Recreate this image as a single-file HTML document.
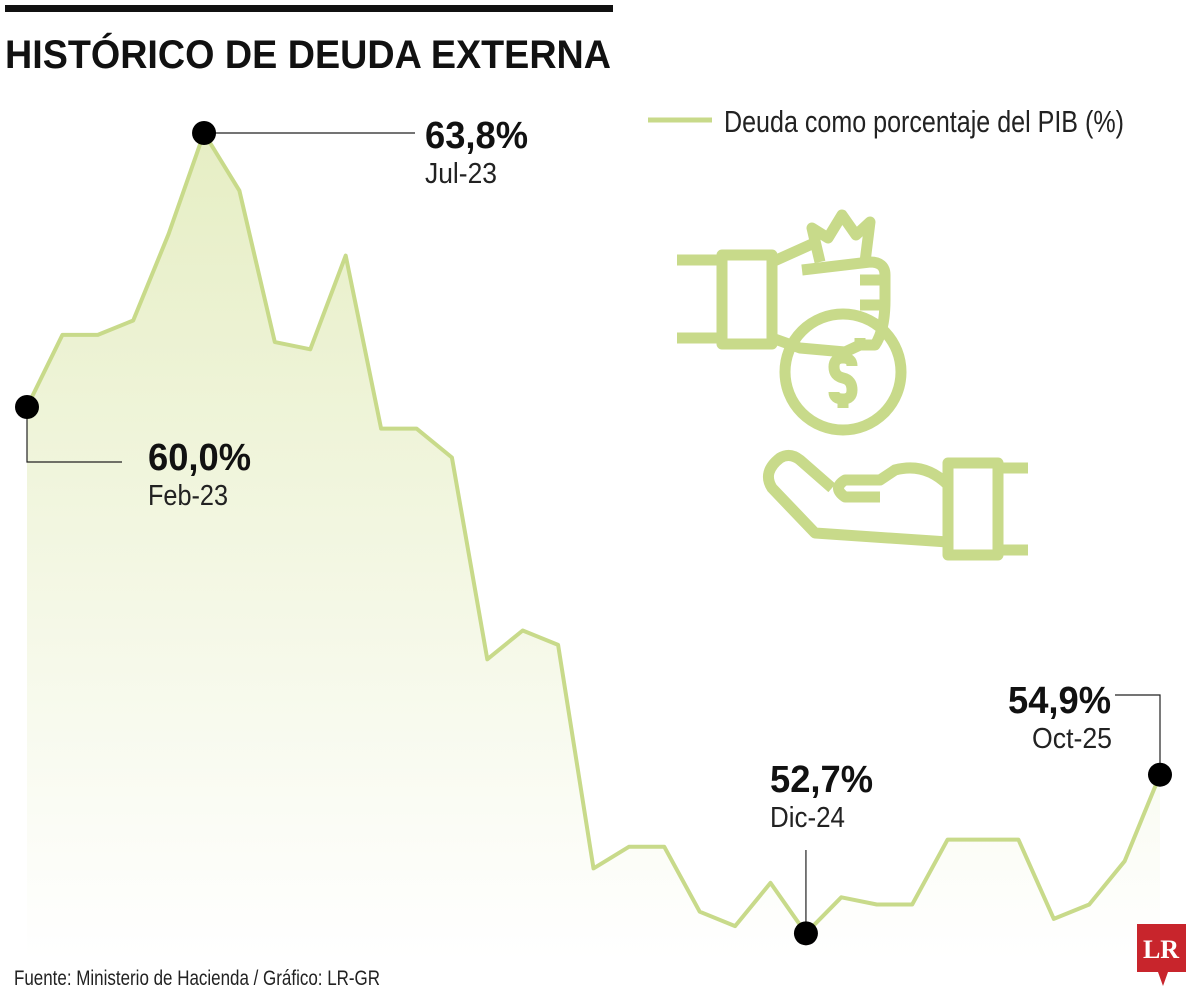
<!DOCTYPE html>
<html><head><meta charset="utf-8"><style>
html,body{margin:0;padding:0;background:#fff}
svg{display:block;font-family:"Liberation Sans Narrow","Liberation Sans",sans-serif}
</style></head><body>
<svg id="chart" width="1200" height="1001" viewBox="0 0 1200 1001">
<defs><linearGradient id="fillg" x1="0" y1="0" x2="0" y2="1">
<stop offset="0" stop-color="#e6eec4"/><stop offset="1" stop-color="#ffffff"/></linearGradient></defs>
<rect x="5" y="5" width="608" height="7" fill="#111"/>
<text x="5" y="68" font-size="40" font-weight="bold" textLength="606" lengthAdjust="spacingAndGlyphs" fill="#111">HISTÓRICO DE DEUDA EXTERNA</text>
<g>
<line x1="648" y1="120" x2="712" y2="120" stroke="#c8da8a" stroke-width="5"/>
<text x="724" y="132" font-size="31" fill="#222" textLength="400" lengthAdjust="spacingAndGlyphs">Deuda como porcentaje del PIB (%)</text>
</g>
<g id="plot"></g>
<g fill="none" stroke="#c8da8a" stroke-width="11" stroke-linejoin="round">
<line x1="677" y1="260" x2="722" y2="260"/><line x1="677" y1="338" x2="722" y2="338"/>
<rect x="722" y="255" width="50" height="89"/>
<path d="M772 262 L812 244 M802 270 L870 262 Q885 262 885 275 L885 300 Q885 330 875 345 L860 345 L860 338 M860 280 L880 280 M860 305 L880 305 M772 338 L800 348 L845 352 L860 345"/>
<path d="M820 262 L812 228 L828 238 L842 215 L856 235 L870 222 L865 262"/>
<circle cx="843" cy="372" r="58"/>
<path d="M852 366 Q852 358 843 358 Q834 358 834 367 Q834 376 843 378 Q852 380 852 390 Q852 399 843 399 Q834 399 834 392 M843 399 L843 408"/>
<line x1="998" y1="468" x2="1028" y2="468"/><line x1="998" y1="550" x2="1028" y2="550"/>
<rect x="948" y="463" width="50" height="92"/>
<path d="M948 485 Q925 462 895 470 L880 480 L845 480 Q832 488 845 497 L880 497"/>
<path d="M948 542 L815 533 L772 488 Q762 472 780 458 Q790 452 800 460 L832 488"/>
</g>
<text x="14" y="985" font-size="21" fill="#222" textLength="366" lengthAdjust="spacingAndGlyphs">Fuente: Ministerio de Hacienda / Gráfico: LR-GR</text>
<g>
<path d="M1137 924 L1186 924 L1186 972 L1168 972 L1163 986 L1158 972 L1137 972 Z" fill="#c8252c"/>
<text x="1161" y="958" font-size="26" font-weight="bold" fill="#fff" text-anchor="middle" font-family="Liberation Serif,serif">LR</text>
</g>
</svg>
<script>
const months=["Feb-23","Mar-23","Abr-23","May-23","Jun-23","Jul-23","Ago-23","Sep-23","Oct-23","Nov-23","Dic-23","Ene-24","Feb-24","Mar-24","Abr-24","May-24","Jun-24","Jul-24","Ago-24","Sep-24","Oct-24","Nov-24","Dic-24","Ene-25","Feb-25","Mar-25","Abr-25","May-25","Jun-25","Jul-25","Ago-25","Sep-25","Oct-25"];
const values=[60.0,61.0,61.0,61.2,62.4,63.8,63.0,60.9,60.8,62.1,59.7,59.7,59.3,56.5,56.9,56.7,53.6,53.9,53.9,53.0,52.8,53.4,52.7,53.2,53.1,53.1,54.0,54.0,54.0,52.9,53.1,53.7,54.9];
const valueLabels=["60,0%","63,8%","52,7%","54,9%"];
const labelIdx=[0,5,22,32];
const NS="http://www.w3.org/2000/svg";
const xS=i=>27+i*(1160-27)/(months.length-1);
const yS=v=>407+(60-v)*72.1;
const g=document.getElementById('plot');
function mk(t,a){const e=document.createElementNS(NS,t);for(const k in a)e.setAttribute(k,a[k]);g.appendChild(e);return e;}
let d=values.map((v,i)=>(i?'L':'M')+xS(i).toFixed(1)+' '+yS(v).toFixed(1)).join(' ');
const area=mk('path',{d:d+` L${xS(values.length-1)} 960 L${xS(0)} 960 Z`,fill:'url(#fillg)'});


const line=mk('path',{d:d,fill:'none',stroke:'#c8da8a','stroke-width':4,'stroke-linejoin':'round'});


const ann=[
 {lead:(x,y)=>`M${x} ${y} L${x} 462 L122 462`,lx:148,ly:470,dx:148,dw:80},
 {lead:(x,y)=>`M${x} ${y} L415 ${y}`,lx:425,ly:148,dx:425,dw:72},
 {lead:(x,y)=>`M${x} ${y} L${x} 850`,lx:770,ly:792,dx:770,dw:75},
 {lead:(x,y)=>`M${x} ${y} L${x} 695 L1115 695`,lx:1008,ly:713,dx:1032,dw:80}
];
labelIdx.forEach((idx,k)=>{
 const x=xS(idx),y=yS(values[idx]),a=ann[k];
 const l=mk('path',{d:a.lead(x,y),fill:'none',stroke:'#222','stroke-width':1.2});
 
 
 const c=mk('circle',{cx:x,cy:y,r:12,fill:'#000'});
 
 
 const t1=mk('text',{x:a.lx,y:a.ly,'font-size':38,'font-weight':'bold',fill:'#111',textLength:103,lengthAdjust:'spacingAndGlyphs'});
 t1.textContent=valueLabels[k];
 
 
 const t2=mk('text',{x:a.dx,y:a.ly+35,'font-size':29,fill:'#222',textLength:a.dw,lengthAdjust:'spacingAndGlyphs'});
 t2.textContent=months[idx];
 
 
});
</script>
</body></html>
